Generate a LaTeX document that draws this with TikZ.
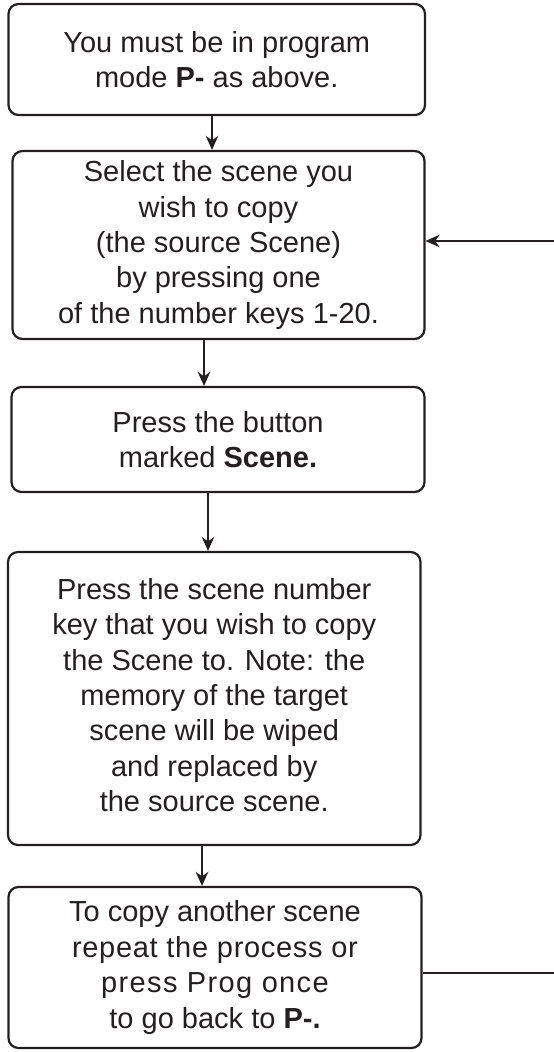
\documentclass[tikz,border=0pt]{standalone}
\usepackage{fontspec}
\setmainfont{Liberation Sans}
\usetikzlibrary{arrows.meta}
\definecolor{ink}{HTML}{231F20}
\tikzset{
  box/.style={draw=ink, line width=2.2pt, rounded corners=10pt, align=center,
    text=ink, font=\fontsize{29}{35.4}\selectfont, inner sep=0pt},
  arr/.style={draw=ink, line width=2pt, -{Stealth[length=14pt,width=12.5pt,inset=4.5pt]}},
}
\begin{document}
\begin{tikzpicture}[x=1pt,y=-1pt]
\useasboundingbox (0,0) rectangle (554,1052);
\node[box, minimum width=416.5pt, minimum height=111pt] (b1) at (216.75,59.5)
  {You must be in program\\mode \textbf{P-} as above.};
\node[box, minimum width=412pt, minimum height=188pt] (b2) at (218.5,245)
  {Select the scene you\\wish to copy\\(the source Scene)\\by pressing one\\of the number keys 1-20.};
\node[box, minimum width=413pt, minimum height=105pt] (b3) at (218,439.5)
  {Press the button\\marked \textbf{Scene.}};
\node[box, minimum width=412.5pt, minimum height=293pt] (b4) at (214.25,698.5)
  {Press the scene number\\key that you wish to copy\\the Scene to. Note: the\\memory of the target\\scene will be wiped\\and replaced by\\the source scene.\rule[-7pt]{0pt}{0pt}};
\node[box, minimum width=413pt, minimum height=161pt] (b5) at (215,967.5)
  {To copy another scene\\{\addfontfeature{LetterSpace=2.4}repeat the process or}\\{\addfontfeature{LetterSpace=4.7}press Prog once}\\to go back to \textbf{P-.}};
\coordinate (x1) at (212,0);
\coordinate (x2) at (204,0);
\coordinate (x3) at (208,0);
\coordinate (x4) at (202,0);
\coordinate (c1) at (557,973);
\coordinate (c2) at (557,241);
\draw[arr] (b1.south -| x1) -- (b2.north -| x1);
\draw[arr] (b2.south -| x2) -- (b3.north -| x2);
\draw[arr] (b3.south -| x3) -- (b4.north -| x3);
\draw[arr] (b4.south -| x4) -- (b5.north -| x4);
\draw[arr] (b5.east |- c1) -- (c1) -- (c2) -- (b2.east |- c2);
\end{tikzpicture}
\end{document}
